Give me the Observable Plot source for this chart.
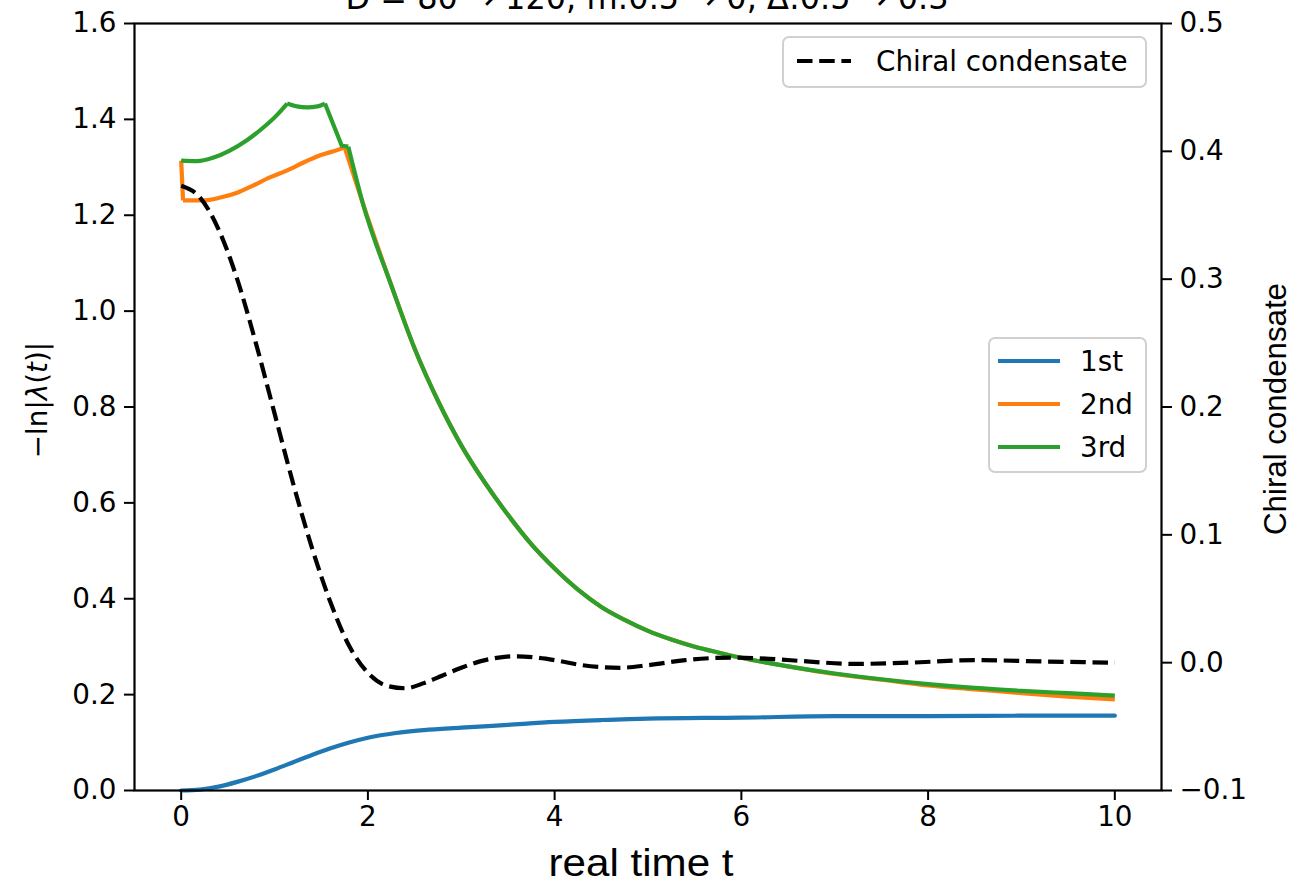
<!DOCTYPE html>
<html><head><meta charset="utf-8">
<script src="https://cdn.jsdelivr.net/npm/d3@7"></script>
<script src="https://cdn.jsdelivr.net/npm/@observablehq/plot@0.6"></script>
<style>
html,body{margin:0;padding:0;background:#fff;overflow:hidden}
#wrap{position:relative;width:1292px;height:885px}
#over{position:absolute;left:0;top:0;pointer-events:none}
</style></head>
<body><div id="wrap"></div>
<script>
// ---- data ----
const xTicks = [0, 2, 4, 6, 8, 10];
const yTicks = [0, 0.2, 0.4, 0.6, 0.8, 1.0, 1.2, 1.4, 1.6];
const rTicks = [-0.1, 0.0, 0.1, 0.2, 0.3, 0.4, 0.5];
const seriesNames = ["1st", "2nd", "3rd"];
const seriesColors = ["#1f77b4", "#ff7f0e", "#2ca02c"];

const t1 = [0, 0.2, 0.4, 0.6, 0.8, 1.0, 1.2, 1.4, 1.6, 1.8, 2.0, 2.3, 2.6, 3.0, 3.5, 4.0, 4.5, 5.0, 6.0, 7.0, 8.0, 9.0, 10.0];
const v1 = [0, 0.002, 0.008, 0.018, 0.030, 0.044, 0.059, 0.074, 0.088, 0.100, 0.110, 0.120, 0.126, 0.131, 0.137, 0.143, 0.147, 0.150, 0.152, 0.155, 0.155, 0.156, 0.156];

const t2 = [0, 0.02, 0.24, 0.42, 0.6, 0.77, 0.95, 1.13, 1.31, 1.49, 1.70, 1.75, 1.95, 2.25, 2.5, 2.75, 3.0, 3.25, 3.5, 3.75, 4.0, 4.25, 4.5, 4.75, 5.0, 5.25, 5.5, 5.75, 6.0, 6.5, 7.0, 7.5, 8.0, 8.5, 9.0, 9.5, 10.0];
const v2 = [1.314, 1.231, 1.231, 1.237, 1.247, 1.262, 1.279, 1.293, 1.310, 1.325, 1.338, 1.342, 1.222, 1.054, 0.922, 0.813, 0.720, 0.643, 0.575, 0.514, 0.463, 0.419, 0.383, 0.356, 0.333, 0.315, 0.300, 0.288, 0.277, 0.259, 0.243, 0.231, 0.219, 0.211, 0.203, 0.196, 0.190];

const t3 = [0, 0.17, 0.34, 0.52, 0.70, 0.88, 1.03, 1.135, 1.24, 1.35, 1.46, 1.54, 1.72, 1.79, 1.95, 2.25, 2.5, 2.75, 3.0, 3.25, 3.5, 3.75, 4.0, 4.25, 4.5, 4.75, 5.0, 5.25, 5.5, 5.75, 6.0, 6.5, 7.0, 7.5, 8.0, 8.5, 9.0, 9.5, 10.0];
const v3 = [1.314, 1.313, 1.320, 1.335, 1.356, 1.383, 1.410, 1.433, 1.427, 1.425, 1.427, 1.433, 1.345, 1.343, 1.222, 1.054, 0.922, 0.813, 0.720, 0.643, 0.575, 0.514, 0.463, 0.419, 0.383, 0.356, 0.333, 0.315, 0.300, 0.288, 0.277, 0.259, 0.244, 0.232, 0.222, 0.214, 0.208, 0.203, 0.198];

const tc = [0, 0.2, 0.4, 0.6, 0.8, 1.0, 1.2, 1.4, 1.6, 1.8, 2.0, 2.2, 2.4, 2.6, 2.8, 3.0, 3.2, 3.4, 3.6, 3.8, 4.0, 4.3, 4.7, 5.0, 5.4, 5.9, 6.3, 6.7, 7.2, 7.8, 8.5, 9.2, 10.0];
const vc = [0.373, 0.364, 0.339, 0.300, 0.250, 0.195, 0.140, 0.090, 0.047, 0.013, -0.008, -0.018, -0.020, -0.016, -0.010, -0.004, 0.001, 0.004, 0.005, 0.004, 0.002, -0.002, -0.004, -0.002, 0.002, 0.004, 0.003, 0.001, -0.001, 0.000, 0.002, 0.001, 0.000];

// ---- helpers ----
const rMin = -0.1, rMax = 0.5, lMin = 0, lMax = 1.6;
const toL = c => (c - rMin) / (rMax - rMin) * (lMax - lMin) + lMin;
const fromL = y => (y - lMin) / (lMax - lMin) * (rMax - rMin) + rMin;
const f1 = d3.format(".1f");

const d1 = t1.map((t, i) => ({t, v: v1[i]}));
const d2 = t2.map((t, i) => ({t, v: v2[i]}));
const d3s = t3.map((t, i) => ({t, v: v3[i]}));
const dc = tc.map((t, i) => ({t, c: vc[i]}));

const LW = 4.2;
// piecewise line: smooth within pieces, sharp at kinks
const seg = (data, lo, hi, color, curve) =>
  Plot.line(data, {filter: d => d.t >= lo && d.t <= hi, x: "t", y: "v", stroke: color, strokeWidth: LW, curve, strokeLinecap: "butt"});

const plot = Plot.plot({
  width: 1292, height: 885,
  marginTop: 23, marginRight: 131, marginBottom: 95, marginLeft: 134,
  style: {fontFamily: "DejaVu Sans", fontSize: "27.8px", background: "white", color: "black"},
  x: {domain: [-0.5, 10.5]},
  y: {domain: [lMin, lMax]},
  marks: [
    Plot.line(d1, {x: "t", y: "v", stroke: seriesColors[0], strokeWidth: LW, curve: "monotone-x"}),
    seg(d2, 0, 0.02, seriesColors[1], "linear"),
    seg(d2, 0.02, 1.75, seriesColors[1], "monotone-x"),
    seg(d2, 1.75, 1.95, seriesColors[1], "linear"),
    seg(d2, 1.95, 10, seriesColors[1], "monotone-x"),
    seg(d3s, 0, 1.135, seriesColors[2], "monotone-x"),
    seg(d3s, 1.135, 1.54, seriesColors[2], "monotone-x"),
    seg(d3s, 1.54, 1.79, seriesColors[2], "linear"),
    seg(d3s, 1.79, 10, seriesColors[2], "monotone-x"),
    Plot.line(dc, {x: "t", y: d => toL(d.c), stroke: "black", strokeWidth: LW, strokeDasharray: "15.5,6.7", strokeLinecap: "butt", curve: "monotone-x"}),
    Plot.axisX(xTicks, {tickSize: 10, tickPadding: 6, tickFormat: d => String(d), label: null, strokeWidth: 2}),
    Plot.axisY(yTicks, {tickSize: 10, tickPadding: 8, tickFormat: f1, label: null, strokeWidth: 2}),
    Plot.axisY(rTicks.map(toL), {anchor: "right", tickSize: 10, tickPadding: 8, tickFormat: d => f1(fromL(d)), label: null, strokeWidth: 2}),
    Plot.frame({stroke: "black", strokeWidth: 2.2})
  ]
});
const wrap = document.getElementById("wrap");
wrap.appendChild(plot);

// ---- overlay: title, axis labels, legends ----
const svg = d3.select(wrap).append("svg").attr("id", "over")
  .attr("width", 1292).attr("height", 885)
  .style("font-family", "DejaVu Sans");

svg.append("text").attr("x", 647).attr("y", 9).attr("text-anchor", "middle")
  .attr("font-size", 33).attr("textLength", 603).attr("lengthAdjust", "spacingAndGlyphs")
  .text("D = 80 \u2192 120, m:0.5 \u2192 0, \u0394:0.5 \u2192 0.3");

svg.append("text").attr("x", 641).attr("y", 876).attr("text-anchor", "middle")
  .attr("font-family", "Liberation Sans, Arial, sans-serif").attr("font-size", 38)
  .attr("textLength", 185).attr("lengthAdjust", "spacingAndGlyphs")
  .text("real time t");

svg.append("text").attr("transform", "translate(1286,409) rotate(-90)").attr("text-anchor", "middle")
  .attr("font-family", "Liberation Sans, Arial, sans-serif").attr("font-size", 32)
  .attr("textLength", 252).attr("lengthAdjust", "spacingAndGlyphs")
  .text("Chiral condensate");

const yl = svg.append("text").attr("transform", "translate(47,400) rotate(-90)").attr("text-anchor", "middle")
  .attr("font-size", 27.8);
yl.append("tspan").text("\u2212ln|");
yl.append("tspan").attr("font-style", "italic").text("\u03bb");
yl.append("tspan").text("(");
yl.append("tspan").attr("font-style", "italic").text("t");
yl.append("tspan").text(")|");

// legend 1
const g1 = svg.append("g");
g1.append("rect").attr("x", 783).attr("y", 37).attr("width", 363).attr("height", 50).attr("rx", 6)
  .attr("fill", "white").attr("fill-opacity", 0.8).attr("stroke", "#d0d0d0").attr("stroke-width", 2);
g1.append("line").attr("x1", 797).attr("x2", 851).attr("y1", 61).attr("y2", 61)
  .attr("stroke", "black").attr("stroke-width", LW).attr("stroke-dasharray", "15.5,6.7");
g1.append("text").attr("x", 876).attr("y", 61).attr("dy", "0.36em").attr("font-size", 27.8).text("Chiral condensate");

// legend 2
const g2 = svg.append("g");
g2.append("rect").attr("x", 989).attr("y", 338).attr("width", 157).attr("height", 134).attr("rx", 6)
  .attr("fill", "white").attr("fill-opacity", 0.8).attr("stroke", "#d0d0d0").attr("stroke-width", 2);
const ly = [361, 404, 447];
seriesNames.forEach((n, i) => {
  g2.append("line").attr("x1", 998).attr("x2", 1060).attr("y1", ly[i]).attr("y2", ly[i])
    .attr("stroke", seriesColors[i]).attr("stroke-width", LW);
  g2.append("text").attr("x", 1080).attr("y", ly[i]).attr("dy", "0.36em").attr("font-size", 27.8).text(n);
});
</script>
</body></html>
